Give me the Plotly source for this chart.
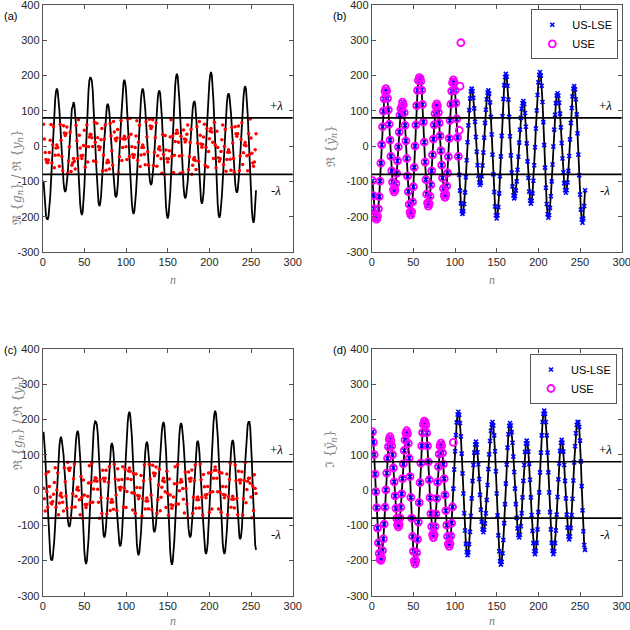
import numpy as np
import plotly.graph_objects as go

# ---------------- data ----------------
LAMBDA = 80
N = list(range(1, 257))

# real part of the (unfolded) signal g_n, n = 1..256
RE_G = [
    -98, -140, -178, -198, -206, -207, -199, -178, -143, -99,
    -48, 4, 55, 99, 134, 155, 163, 156, 135, 103,
    62, 17, -29, -70, -102, -123, -130, -124, -106, -77,
    -42, -2, 40, 88, 106, 112, 125, 117, 95, 59,
    15, -35, -85, -129, -165, -187, -195, -186, -158, -115,
    -60, 0, 60, 115, 158, 186, 194, 193, 184, 159,
    118, 68, 11, -45, -95, -136, -161, -170, -163, -142,
    -110, -70, -25, 20, 60, 92, 113, 120, 114, 95,
    65, 29, -13, -54, -90, -120, -139, -145, -137, -113,
    -76, -30, 22, 73, 119, 156, 180, 188, 180, 158,
    122, 77, 25, -29, -81, -126, -162, -184, -192, -185,
    -164, -131, -88, -40, 11, 59, 102, 135, 156, 163,
    156, 137, 107, 69, 26, -16, -54, -84, -103, -110,
    -104, -85, -55, -18, 24, 66, 103, 133, 152, 158,
    149, 124, 83, 33, -24, -80, -130, -171, -196, -205,
    -196, -173, -134, -85, -29, 29, 85, 134, 173, 196,
    205, 197, 171, 132, 83, 28, -26, -75, -114, -140,
    -148, -142, -126, -100, -67, -30, 10, 47, 80, 106,
    122, 128, 119, 94, 55, 8, -43, -90, -129, -154,
    -163, -155, -134, -98, -54, -3, 50, 101, 145, 181,
    202, 210, 200, 171, 125, 68, 3, -61, -118, -164,
    -193, -203, -196, -175, -142, -100, -52, -1, 47, 89,
    122, 143, 150, 143, 123, 92, 53, 9, -35, -74,
    -105, -125, -132, -125, -103, -70, -28, 19, 66, 108,
    141, 163, 170, 161, 133, 90, 36, -24, -83, -137,
    -180, -208, -217, -205, -170, -125,
]

# imaginary part of the (unfolded) signal g_n, n = 1..256
IM_G = [
    165, 135, 100, 45, -5, -50, -108, -150, -180, -197,
    -200, -193, -172, -139, -97, -49, 0, 48, 90, 123,
    144, 151, 140, 125, 100, 63, 23, -17, -52, -81,
    -99, -105, -98, -79, -49, -11, 32, 74, 112, 142,
    161, 168, 159, 132, 90, 38, -21, -80, -132, -174,
    -201, -210, -201, -178, -140, -91, -36, 21, 76, 125,
    163, 186, 195, 193, 185, 162, 125, 80, 29, -22,
    -67, -104, -127, -135, -127, -104, -68, -24, 22, 66,
    102, 125, 133, 126, 105, 73, 32, -14, -59, -100,
    -132, -153, -160, -152, -130, -94, -48, 4, 58, 110,
    156, 192, 214, 222, 213, 190, 152, 103, 47, -10,
    -66, -115, -153, -176, -185, -177, -154, -119, -74, -24,
    26, 71, 106, 129, 137, 129, 107, 73, 31, -14,
    -56, -90, -112, -120, -113, -95, -66, -28, 14, 59,
    101, 139, 168, 186, 193, 183, 155, 110, 53, -10,
    -72, -129, -174, -202, -212, -204, -180, -142, -94, -40,
    18, 72, 120, 158, 182, 190, 183, 164, 134, 95,
    51, 4, -40, -79, -109, -128, -135, -127, -103, -66,
    -21, 26, 71, 108, 132, 140, 132, 109, 74, 29,
    -21, -71, -116, -151, -174, -182, -173, -150, -112, -63,
    -7, 50, 106, 155, 193, 216, 225, 216, 193, 155,
    106, 50, -7, -63, -112, -150, -173, -182, -174, -151,
    -115, -70, -20, 30, 75, 111, 134, 142, 134, 109,
    71, 26, -24, -70, -107, -132, -140, -132, -108, -71,
    -25, 27, 78, 124, 161, 185, 193, 193, 179, 140,
    81, 11, -58, -117, -156, -170,
]

# USE estimate: follows the curve up to a sample, then breaks down
USE_RE_LAST_ON_CURVE = 104
USE_RE_EXTRA_N = [105, 106, 107]
USE_RE_EXTRA_V = [45, 170, 293]
USE_IM_LAST_ON_CURVE = 97
USE_IM_EXTRA_N = [98]
USE_IM_EXTRA_V = [135]

X_TICKS = [0, 50, 100, 150, 200, 250, 300]
Y_TICKS = [-300, -200, -100, 0, 100, 200, 300, 400]
Y_TICK_TEXT = ["-300", "-200", "-100", "0", "100", "200", "300", "400"]

PANEL_LABELS = ["(a)", "(b)", "(c)", "(d)"]
Y_TITLES = [
    "ℜ {<i>g<sub>n</sub></i>} / ℜ {<i>y<sub>n</sub></i>}",
    "ℜ {<i>ỹ<sub>n</sub></i>}",
    "ℜ {<i>g<sub>n</sub></i>} / ℜ {<i>y<sub>n</sub></i>}",
    "ℑ {<i>ỹ<sub>n</sub></i>}",
]

# ---------------- derived series ----------------
re_arr = np.array(RE_G, dtype=float)
im_arr = np.array(IM_G, dtype=float)
re_fold = np.mod(re_arr + LAMBDA, 2 * LAMBDA) - LAMBDA
im_fold = np.mod(im_arr + LAMBDA, 2 * LAMBDA) - LAMBDA

use_re_n = N[:USE_RE_LAST_ON_CURVE] + USE_RE_EXTRA_N
use_re_v = RE_G[:USE_RE_LAST_ON_CURVE] + USE_RE_EXTRA_V
use_im_n = N[:USE_IM_LAST_ON_CURVE] + USE_IM_EXTRA_N
use_im_v = IM_G[:USE_IM_LAST_ON_CURVE] + USE_IM_EXTRA_V

# ---------------- layout geometry (pixels in a 630x630 page) ----------------
W = H = 630
PANELS = [  # (left, right, top, bottom)
    (42.7, 292.7, 5, 252),
    (371.7, 621.7, 5, 252),
    (42.7, 292.7, 349, 595.7),
    (371.7, 621.7, 349, 595.7),
]
YTITLE_POS = [(8, 128), (331, 124), (8, 472), (331, 470)]
NLABEL_BOTTOM = [289, 289, 630, 630]   # bottom edge of the "n" label
PLABEL_POS = [(2, 8), (331, 8), (2, 350), (331, 350)]

TICK_FONT = dict(family="Liberation Sans, Arial, sans-serif", size=11, color="#262626")
AX_COLOR = "#555555"

fig = go.Figure()
layout = dict(
    width=W, height=H,
    margin=dict(l=0, r=0, t=0, b=0, autoexpand=False),
    plot_bgcolor="white", paper_bgcolor="white",
    showlegend=True,
    annotations=[], shapes=[],
)

for i, (l, r, t, b) in enumerate(PANELS):
    s = "" if i == 0 else str(i + 1)
    layout["xaxis" + s] = dict(
        domain=[l / W, r / W], anchor="y" + s, range=[0, 300], automargin=False,
        tickvals=X_TICKS, ticks="inside", ticklen=4, tickcolor=AX_COLOR,
        showline=True, mirror="ticks", linecolor=AX_COLOR, linewidth=1,
        showgrid=False, zeroline=False, tickfont=TICK_FONT,
        ticklabeloverflow="allow",
    )
    layout["yaxis" + s] = dict(
        domain=[1 - b / H, 1 - t / H], anchor="x" + s, range=[-300, 400],
        automargin=False, ticklabeloverflow="allow",
        tickvals=Y_TICKS, ticktext=Y_TICK_TEXT, ticks="inside", ticklen=4,
        tickcolor=AX_COLOR, showline=True, mirror="ticks", linecolor=AX_COLOR,
        linewidth=1, showgrid=False, zeroline=False, tickfont=TICK_FONT,
    )
    xr, yr = "x" + s, "y" + s
    for lv in (LAMBDA, -LAMBDA):
        layout["shapes"].append(dict(
            type="line", xref=xr + " domain", yref=yr, x0=0, x1=1, y0=lv, y1=lv,
            line=dict(color="black", width=1.6),
        ))
    layout["annotations"] += [
        dict(xref=xr, yref=yr, x=280, y=116, text="+<i>λ</i>", showarrow=False,
             font=dict(family="Liberation Serif, serif", size=13, color="black")),
        dict(xref=xr, yref=yr, x=280, y=-127, text="-<i>λ</i>", showarrow=False,
             font=dict(family="Liberation Serif, serif", size=13, color="black")),
        dict(xref="paper", yref="paper", x=YTITLE_POS[i][0] / W, y=1 - YTITLE_POS[i][1] / H,
             text=Y_TITLES[i], textangle=-90, showarrow=False,
             font=dict(family="DejaVu Serif, serif", size=12, color="#808080")),
        dict(xref="paper", yref="paper", x=(l + r) / 2 / W, y=1 - NLABEL_BOTTOM[i] / H,
             yanchor="bottom", text="<i>n</i>", showarrow=False,
             font=dict(family="Liberation Serif, serif", size=12, color="#808080")),
        dict(xref="paper", yref="paper", x=PLABEL_POS[i][0] / W, y=1 - PLABEL_POS[i][1] / H,
             text=PANEL_LABELS[i], showarrow=False, xanchor="left",
             font=dict(family="Liberation Sans, Arial, sans-serif", size=11, color="black")),
    ]

LINE = dict(color="black", width=1.8)

# (a) real part + folded samples
fig.add_trace(go.Scatter(x=N, y=RE_G, mode="lines", line=LINE, showlegend=False,
                         xaxis="x", yaxis="y"))
fig.add_trace(go.Scatter(x=N, y=re_fold, mode="markers",
                         marker=dict(color="#ff0000", size=3.5), showlegend=False,
                         xaxis="x", yaxis="y"))
# (c) imaginary part + folded samples
fig.add_trace(go.Scatter(x=N, y=IM_G, mode="lines", line=LINE, showlegend=False,
                         xaxis="x3", yaxis="y3"))
fig.add_trace(go.Scatter(x=N, y=im_fold, mode="markers",
                         marker=dict(color="#ff0000", size=3.5), showlegend=False,
                         xaxis="x3", yaxis="y3"))

XM = dict(symbol="x-thin", size=4, color="#0000ff", line=dict(color="#0000ff", width=1.6))
OM = dict(symbol="circle-open", size=7, color="#ff00ff", line=dict(color="#ff00ff", width=1.8))

for (xa, ya, vals, un, uv, lg) in [
    ("x2", "y2", RE_G, use_re_n, use_re_v, "legend"),
    ("x4", "y4", IM_G, use_im_n, use_im_v, "legend2"),
]:
    fig.add_trace(go.Scatter(x=N, y=vals, mode="lines", line=LINE, showlegend=False,
                             xaxis=xa, yaxis=ya))
    fig.add_trace(go.Scatter(x=N, y=vals, mode="markers", marker=XM, name="US-LSE",
                             legend=lg, legendrank=1, xaxis=xa, yaxis=ya))
    fig.add_trace(go.Scatter(x=un, y=uv, mode="markers", marker=OM, name="USE",
                             legend=lg, legendrank=2, xaxis=xa, yaxis=ya))

LEG = dict(xanchor="right", yanchor="top", bgcolor="white", bordercolor="#555555",
           borderwidth=1, font=dict(family="Liberation Sans, Arial, sans-serif",
                                    size=11, color="black"),
           tracegroupgap=0, itemwidth=30)
layout["legend"] = dict(LEG, x=618.3 / W, y=1 - 9.3 / H)
layout["legend2"] = dict(LEG, x=617 / W, y=1 - 354 / H)

fig.update_layout(**layout)
fig.write_html(
    "out.html",
    config={"displayModeBar": False},
    post_script="document.body.style.margin='0px';document.body.style.overflow='hidden';",
)
